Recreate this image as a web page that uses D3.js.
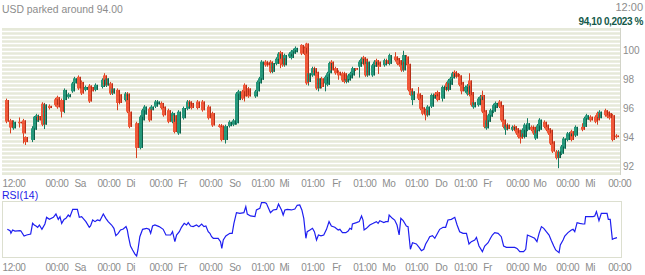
<!DOCTYPE html>
<html>
<head>
<meta charset="utf-8">
<script src="https://cdn.jsdelivr.net/npm/d3@7"></script>
<style>
  body { margin: 0; background: #fff; }
  text { font-family: "Liberation Sans", Arial, sans-serif; }
</style>
</head>
<body>
<div id="chart-area"></div>
<script>

var width = 645,
    height = 275;

// candle data (time slot = hour since start, prices)
var candleSlot = [2,4,5,8,10,11,14,15,16,17,19,20,22,25,26,28,29,31,33,34,36,37,39,41,42,44,47,48,49,51,52,54,55,58,59,60,63,65,66,67,69,70,72,73,75,76,78,80,81,83,85,87,88,89,92,94,97,99,102,103,105,107,109,110,111,113,114,115,116,119,120,121,122,124,125,126,127,129,130,131,132,133,135,136,137,138,141,142,143,144,146,147,148,149,150,152,153,154,155,157,158,160,161,162,163,164,165,166,168,169,170,171,172,174,175,176,177,180,181,182,185,186,187,188,189,190,191,192,193,196,197,198,199,200,202,203,204,205,207,208,209,210,211,212,213,214,215,216,218,219,220,221,222,224,225,226,227,228,229,230,231,232,234,235,236,237,238,240,241,242,243,244,245,246,247,249,250,251,252,253,255,256,257,258,259,261,262,263,264,266,267,268,270,273,274,275,277,279,280,281,284,285,286,287,289];
var openP = [96.60,95.20,94.65,95.10,95.20,94.05,93.85,94.55,95.10,95.50,96.35,94.90,96.20,96.65,96.80,96.60,96.60,96.80,97.20,97.75,98.20,97.85,97.30,97.60,97.50,97.30,97.50,98.30,97.60,97.75,97.05,97.30,97.00,96.60,97.05,95.80,95.00,93.30,95.20,95.60,96.00,95.90,96.15,96.30,96.40,96.15,95.90,95.10,95.55,94.30,95.35,96.00,96.50,96.40,96.50,96.50,96.15,95.70,94.85,94.85,93.85,94.80,94.90,95.00,96.60,97.20,97.65,97.40,97.40,96.85,97.20,97.75,98.00,99.25,99.20,99.25,98.55,99.10,99.45,99.90,99.50,99.00,99.60,99.50,99.80,99.90,100.40,100.20,100.50,97.85,98.30,98.80,98.55,97.40,98.10,97.75,97.65,98.45,99.25,98.80,98.55,98.45,98.45,97.85,97.95,98.10,98.30,98.80,98.90,99.10,99.55,99.45,98.30,98.30,98.90,99.35,99.25,99.00,99.35,99.10,99.60,99.50,99.35,99.25,98.65,99.60,99.10,97.40,96.60,97.05,96.95,96.10,95.90,95.55,96.15,96.70,97.05,97.15,96.70,97.30,97.75,97.30,97.65,98.10,98.55,98.45,98.30,97.85,97.20,97.00,97.95,97.15,96.10,96.25,96.60,96.95,95.90,94.65,95.10,95.45,95.80,96.05,96.50,96.25,95.25,94.55,94.90,94.55,94.80,94.65,94.55,94.30,94.05,94.05,94.55,94.75,94.75,93.95,94.45,94.55,95.10,94.90,94.65,94.55,93.75,93.05,92.60,92.90,93.25,93.85,94.10,94.45,94.15,94.75,94.75,95.25,95.45,95.45,95.70,95.35,95.90,95.80,95.70,95.55,94.15];
var highP = [96.70,95.30,95.20,95.40,95.30,94.10,94.80,95.50,95.65,95.60,96.45,96.40,96.30,96.75,96.90,96.70,97.40,97.10,97.85,98.20,98.30,97.95,97.60,97.70,97.60,97.75,98.10,98.45,98.20,97.85,97.50,97.40,97.10,97.15,97.15,95.90,95.10,95.55,96.00,96.25,96.10,96.25,96.60,96.60,96.50,96.25,96.00,95.80,95.65,95.90,96.15,96.60,96.60,96.50,96.60,96.60,96.25,95.80,94.95,94.95,94.90,95.20,95.30,97.15,97.30,97.30,97.75,97.50,97.50,97.30,97.95,98.20,99.35,99.35,99.30,99.35,99.25,99.55,99.90,100.00,99.60,99.80,99.90,100.05,100.15,100.30,100.45,100.30,100.55,98.55,98.90,98.90,98.65,98.20,98.20,98.30,98.55,99.25,99.35,98.90,98.65,98.55,98.55,98.15,98.40,98.55,98.90,98.80,99.35,99.55,99.65,99.55,99.35,99.10,99.35,99.45,99.35,99.45,99.45,99.80,99.90,99.60,99.45,99.35,100.00,99.70,99.20,97.50,97.30,97.50,97.05,96.20,96.00,96.25,97.05,97.05,97.15,97.25,97.60,97.60,97.85,98.05,98.20,98.55,98.65,98.60,98.40,97.95,97.60,97.70,98.45,97.25,96.55,96.80,96.95,97.25,96.00,95.30,95.65,96.00,96.35,96.50,96.60,96.35,95.35,95.00,95.00,94.85,94.90,94.75,94.65,94.40,94.65,95.00,95.35,94.85,94.85,94.65,94.95,95.35,95.20,95.00,94.75,94.65,93.85,93.15,93.15,93.50,94.05,94.40,94.40,94.55,94.85,95.00,95.45,95.65,95.55,95.55,95.80,95.90,96.00,95.90,95.80,95.65,94.25];
var lowP = [95.00,94.30,94.55,94.70,93.60,93.50,93.70,94.40,95.00,95.10,94.80,94.60,95.95,96.15,96.00,95.40,95.70,96.70,97.10,97.65,97.30,96.95,97.20,96.40,97.10,97.20,97.40,97.50,97.50,96.95,96.95,95.90,96.30,96.50,95.70,94.65,92.60,93.20,95.10,95.50,95.10,95.80,96.05,96.20,95.95,95.45,95.00,95.00,94.30,94.20,95.25,95.90,96.05,95.95,95.95,95.80,95.25,94.75,94.70,93.75,93.60,94.70,94.80,94.90,96.50,96.60,96.50,96.85,96.75,96.75,97.10,97.65,97.90,98.90,98.90,98.45,98.45,99.00,99.35,98.80,98.90,98.90,99.50,99.40,99.70,99.80,99.70,99.70,97.65,97.60,98.20,98.35,97.30,97.20,97.40,97.20,97.55,98.35,98.55,98.35,98.00,97.85,97.75,97.75,97.80,98.00,98.20,98.60,98.15,99.00,99.00,98.20,98.20,98.20,98.80,98.90,98.40,98.90,99.00,99.00,99.25,99.00,98.90,98.55,98.55,99.00,97.20,96.90,96.25,96.60,95.90,95.55,95.20,95.45,96.05,96.60,96.75,96.50,96.50,97.20,97.20,97.20,97.55,98.00,98.10,98.10,97.55,97.00,97.10,96.90,96.85,96.15,96.00,96.15,96.50,95.70,94.65,94.55,95.00,95.35,95.70,95.95,96.05,95.10,94.65,94.20,94.50,94.45,94.45,94.20,93.95,93.60,93.95,93.95,94.45,94.45,94.20,93.85,94.35,94.45,94.65,94.45,94.20,93.50,92.95,92.50,91.90,92.80,93.15,93.75,94.00,93.75,94.05,94.45,94.65,95.15,95.10,95.00,94.90,95.25,95.45,95.35,95.25,93.75,93.95];
var closeP = [95.11,94.70,95.10,95.00,94.30,93.70,94.65,95.45,95.55,95.20,94.90,96.30,96.05,96.25,96.10,95.80,97.30,97.00,97.75,98.10,97.40,97.05,97.50,96.50,97.20,97.65,98.00,97.60,98.10,97.05,97.40,96.40,96.40,97.05,95.80,94.75,93.30,95.45,95.90,96.15,95.20,96.15,96.50,96.50,96.05,95.55,95.10,95.70,94.40,95.80,96.05,96.50,96.15,96.05,96.05,95.90,95.35,94.85,94.80,93.85,94.80,95.10,95.20,97.05,97.20,96.70,96.85,96.95,96.85,97.20,97.85,98.10,99.25,99.00,99.00,98.55,99.15,99.45,99.80,99.10,99.00,99.70,99.80,99.95,100.05,100.20,99.80,99.80,97.75,98.45,98.80,98.45,97.40,98.10,97.50,98.20,98.45,99.15,98.65,98.45,98.30,97.95,97.85,98.05,98.30,98.45,98.80,98.70,99.25,99.45,99.10,98.30,99.25,99.00,99.25,99.00,98.90,99.35,99.10,99.70,99.35,99.10,99.00,98.65,99.70,99.10,97.30,96.95,97.20,96.70,96.00,95.65,95.55,96.15,96.95,96.95,96.85,96.60,97.50,97.50,97.30,97.95,98.10,98.45,98.20,98.20,97.65,97.20,97.50,97.60,96.95,96.25,96.45,96.70,96.85,95.80,94.75,95.20,95.55,95.90,96.25,96.40,96.15,95.20,94.75,94.90,94.60,94.75,94.55,94.30,94.05,93.95,94.55,94.90,95.00,94.55,94.30,94.55,94.85,95.25,94.75,94.55,94.30,93.60,93.05,92.60,93.05,93.40,93.95,94.30,94.30,93.85,94.75,94.55,95.35,95.55,95.20,95.10,95.20,95.80,95.55,95.45,95.35,93.85,94.10];

// RSI(14)
var rsiSlot = [2.5,3.8,4.2,5.0,6.1,8.5,8.9,10.4,11.6,13.5,14.4,15.2,16.0,16.8,17.6,18.8,20.2,21.0,22.3,24.2,25.4,26.5,27.3,28.1,29.2,30.1,31.2,32.0,33.3,35.5,36.4,37.5,38.6,39.5,41.1,41.7,42.7,43.8,44.9,46.1,47.7,48.9,50.0,51.6,52.7,53.6,54.7,55.8,57.1,58.4,59.0,59.5,60.5,61.5,62.6,63.4,64.0,64.9,66.2,68.1,69.3,70.0,70.9,72.0,74.0,75.9,77.2,79.4,80.3,81.4,82.2,83.5,84.5,85.8,86.9,87.7,88.8,90.0,91.6,92.7,94.0,95.1,96.0,97.1,97.9,98.7,99.5,101.8,102.9,103.5,104.2,105.4,107.3,108.4,109.2,110.4,112.0,113.9,114.8,115.5,117.0,119.1,119.8,121.4,122.2,123.8,124.5,125.5,126.4,127.7,129.3,130.2,131.6,132.4,133.2,134.3,136.3,137.9,139.0,140.2,141.2,142.1,143.1,143.7,145.0,146.2,147.1,148.1,149.0,150.2,151.5,152.8,154.0,155.1,156.7,158.3,159.1,160.3,161.9,163.0,163.8,164.6,165.0,166.9,168.2,169.3,170.0,170.5,171.6,173.2,174.8,176.3,177.1,177.9,179.8,180.7,181.8,182.3,183.8,184.9,186.0,187.0,187.8,188.9,190.4,191.2,192.3,193.3,195.1,196.4,197.5,198.6,199.5,200.6,201.4,202.7,203.8,204.9,206.1,207.7,208.9,210.0,211.6,213.2,214.3,215.5,217.1,218.7,219.9,221.0,222.6,223.4,224.6,226.2,227.3,228.9,230.0,230.9,232.0,233.6,235.1,236.2,237.5,239.1,241.4,242.5,243.8,245.6,246.6,247.4,248.5,250.8,251.9,252.9,254.0,255.1,256.3,257.6,258.7,259.8,260.7,262.3,262.9,264.2,265.0,266.5,268.1,268.9,269.7,270.8,272.0,273.6,274.4,274.8,276.7,278.3,279.1,279.9,281.1,282.2,284.2,284.9,285.5,286.4,287.4,288.5,289.6];
var rsiVal = [52.7,51.1,48.0,51.9,50.7,51.1,50.7,44.8,46.0,47.2,59.8,57.8,56.6,55.1,57.8,52.7,59.0,66.9,64.5,66.9,70.8,64.5,67.7,59.8,64.5,65.7,69.6,67.7,76.3,76.3,66.9,67.7,64.5,61.8,55.1,56.6,63.7,61.8,63.7,62.9,70.8,65.7,61.8,57.8,53.9,45.2,48.0,51.9,53.1,55.9,51.9,44.8,33.0,28.3,23.5,21.2,28.3,44.0,52.7,53.9,52.7,48.0,56.6,57.8,55.9,52.7,46.0,46.0,49.9,38.1,46.0,49.9,55.1,59.8,57.8,60.6,56.6,55.9,57.8,55.9,59.0,55.9,56.6,49.9,48.0,44.0,42.1,42.1,38.1,30.2,40.1,44.8,48.0,48.0,59.8,72.4,71.6,72.4,79.5,70.8,68.5,67.7,75.6,77.5,84.2,84.2,83.4,77.5,72.4,75.6,76.3,82.6,75.6,69.6,75.6,76.3,75.6,76.7,81.1,81.5,75.6,65.7,42.1,49.9,51.9,53.9,49.9,40.1,46.0,45.0,46.0,52.7,61.8,56.6,55.1,51.9,52.7,48.8,48.8,50.7,53.9,52.7,59.0,60.6,61.8,68.5,63.7,51.9,53.9,57.8,59.8,61.8,59.8,62.9,60.6,61.8,61.8,69.6,65.7,63.7,57.8,46.0,65.7,62.9,56.6,55.9,29.1,36.9,35.4,31.4,27.5,29.1,35.4,40.1,44.0,45.2,42.1,47.2,52.7,55.1,55.1,63.7,64.5,66.9,57.8,49.9,48.0,48.0,35.4,38.1,40.1,43.2,33.0,26.3,33.0,36.9,42.1,46.0,48.8,48.0,44.0,33.0,31.4,31.4,31.4,30.2,26.3,26.3,29.1,46.0,44.8,42.1,38.1,48.0,55.9,53.9,49.9,46.0,39.3,33.0,28.3,25.1,34.2,40.1,44.8,48.8,51.9,52.7,49.9,60.6,59.8,59.0,59.0,67.7,67.7,67.7,68.5,73.6,62.9,71.6,71.6,71.6,64.5,64.5,40.9,42.1,42.9];

// time axis labels (same row under both panels)
var tickSlot  = [0, 20.2, 33.9, 44.7, 58.4, 69.2, 82.8, 92.7, 106.8, 117.2, 130.4, 140.7, 155.3, 165.2, 178.8, 189.6, 203.8, 212.7, 226.4, 237.2, 249.9, 260.7, 274.4, 285.2];
var tickLabel = ["12:00","00:00","Sa","00:00","Di","00:00","Fr","00:00","So","01:00","Mi","01:00","Fr","01:00","Mo","01:00","Do","01:00","Fr","00:00","Mo","00:00","Mi","00:00"];
var priceTicks = [92, 94, 96, 98, 100];

var svg = d3.select("#chart-area").append("svg")
    .attr("width", width)
    .attr("height", height);

var x = d3.scaleLinear().domain([0, 291]).range([2, 620]);
var y = d3.scaleLinear().domain([91.43, 101.57]).range([175, 28]);
var yRsi = d3.scaleLinear().domain([20, 85]).range([257, 202]);

// header texts
svg.append("text").attr("x", 2).attr("y", 13)
    .style("font-size", "10.4px").style("fill", "#8c8c8c")
    .text("USD parked around 94.00");
svg.append("text").attr("x", 643).attr("y", 11).attr("text-anchor", "end")
    .style("font-size", "11px").style("fill", "#8c8c8c")
    .text("12:00");
svg.append("text").attr("x", 643).attr("y", 25).attr("text-anchor", "end")
    .style("font-size", "10px").style("fill", "#145a4a").style("letter-spacing", "-0.4px")
    .style("font-weight", "bold")
    .text("94,10 0,2023 %");

// main panel background + stripes (one white line every 4px)
svg.append("rect").attr("x", 2).attr("y", 28).attr("width", 618).attr("height", 147)
    .style("fill", "#e6e9d9");

svg.append("clipPath").attr("id", "clip").append("rect")
    .attr("x", 2).attr("y", 28).attr("width", 618).attr("height", 147);

var stripeY = d3.range(31.5, 175, 4);
svg.append("g").attr("clip-path", "url(#clip)")
  .selectAll(".stripe")
    .data(stripeY)
    .enter()
    .append("line")
    .attr("class", "stripe")
    .attr("x1", 2).attr("x2", 620)
    .attr("y1", d => d).attr("y2", d => d)
    .style("stroke", "#ffffff")
    .style("stroke-width", 1.6);

svg.append("line").attr("x1", 620.5).attr("x2", 620.5).attr("y1", 28).attr("y2", 175)
    .style("stroke", "#d2d4c8");

// candles
var candles = candleSlot.map(function(s, i) {
  return { t: s, o: openP[i], h: highP[i], l: lowP[i], c: closeP[i] };
});

var g = svg.append("g").attr("clip-path", "url(#clip)");

g.selectAll(".wick")
    .data(candles)
    .enter()
    .append("line")
    .attr("class", "wick")
    .attr("x1", d => Math.round(x(d.t)) + 0.5)
    .attr("x2", d => Math.round(x(d.t)) + 0.5)
    .attr("y1", d => y(d.h))
    .attr("y2", d => y(d.l))
    .style("stroke", d => d.c >= d.o ? "#147a60" : "#d8401f");

g.selectAll(".body")
    .data(candles)
    .enter()
    .append("rect")
    .attr("class", "body")
    .attr("x", d => Math.round(x(d.t)) - 1)
    .attr("width", 4)
    .attr("y", d => y(Math.max(d.o, d.c)))
    .attr("height", d => Math.max(1.5, y(Math.min(d.o, d.c)) - y(Math.max(d.o, d.c))))
    .style("fill", d => d.c >= d.o ? "#26987b" : "#f0593a");

g.selectAll(".shade")
    .data(candles)
    .enter()
    .append("rect")
    .attr("class", "shade")
    .attr("x", d => Math.round(x(d.t)) + 2)
    .attr("width", 1)
    .attr("y", d => y(Math.max(d.o, d.c)))
    .attr("height", d => Math.max(1.5, y(Math.min(d.o, d.c)) - y(Math.max(d.o, d.c))))
    .style("fill", d => d.c >= d.o ? "#0f5c49" : "#b3301a");

// right price axis
var yAxis = d3.axisRight(y).tickValues(priceTicks).tickSize(0).tickPadding(3);
var ya = svg.append("g").attr("transform", "translate(620,0)").call(yAxis);
ya.select(".domain").remove();
ya.selectAll("text").style("font-size", "10px").style("fill", "#8c8c8c")
    .style("font-family", "'Liberation Sans', Arial, sans-serif");

// time axis rows
function timeRow(yPos) {
  var ax = d3.axisBottom(x).tickValues(tickSlot)
      .tickFormat((d, i) => tickLabel[i]).tickSize(0).tickPadding(0);
  var ga = svg.append("g").attr("transform", "translate(0," + yPos + ")").call(ax);
  ga.select(".domain").remove();
  ga.selectAll("text")
      .attr("text-anchor", "start")
      .attr("dy", null).attr("y", 0)
      .style("font-size", "10px").style("fill", "#8c8c8c").style("letter-spacing", "-0.4px")
      .style("font-family", "'Liberation Sans', Arial, sans-serif");
}
timeRow(186.5);
timeRow(270.5);

// RSI panel
svg.append("text").attr("x", 2).attr("y", 198.5)
    .style("font-size", "10.5px").style("fill", "#2323e6")
    .text("RSI(14)");

svg.append("rect").attr("x", 2.5).attr("y", 201.5).attr("width", 619).attr("height", 56)
    .style("fill", "#fff").style("stroke", "#dcdfcf");

var rsiLine = d3.line()
    .x((d, i) => x(rsiSlot[i]))
    .y(d => yRsi(d));

svg.append("path")
    .datum(rsiVal)
    .attr("d", rsiLine)
    .style("fill", "none")
    .style("stroke", "#1e1ef0")
    .style("stroke-width", 1.2);

</script>
</body>
</html>
